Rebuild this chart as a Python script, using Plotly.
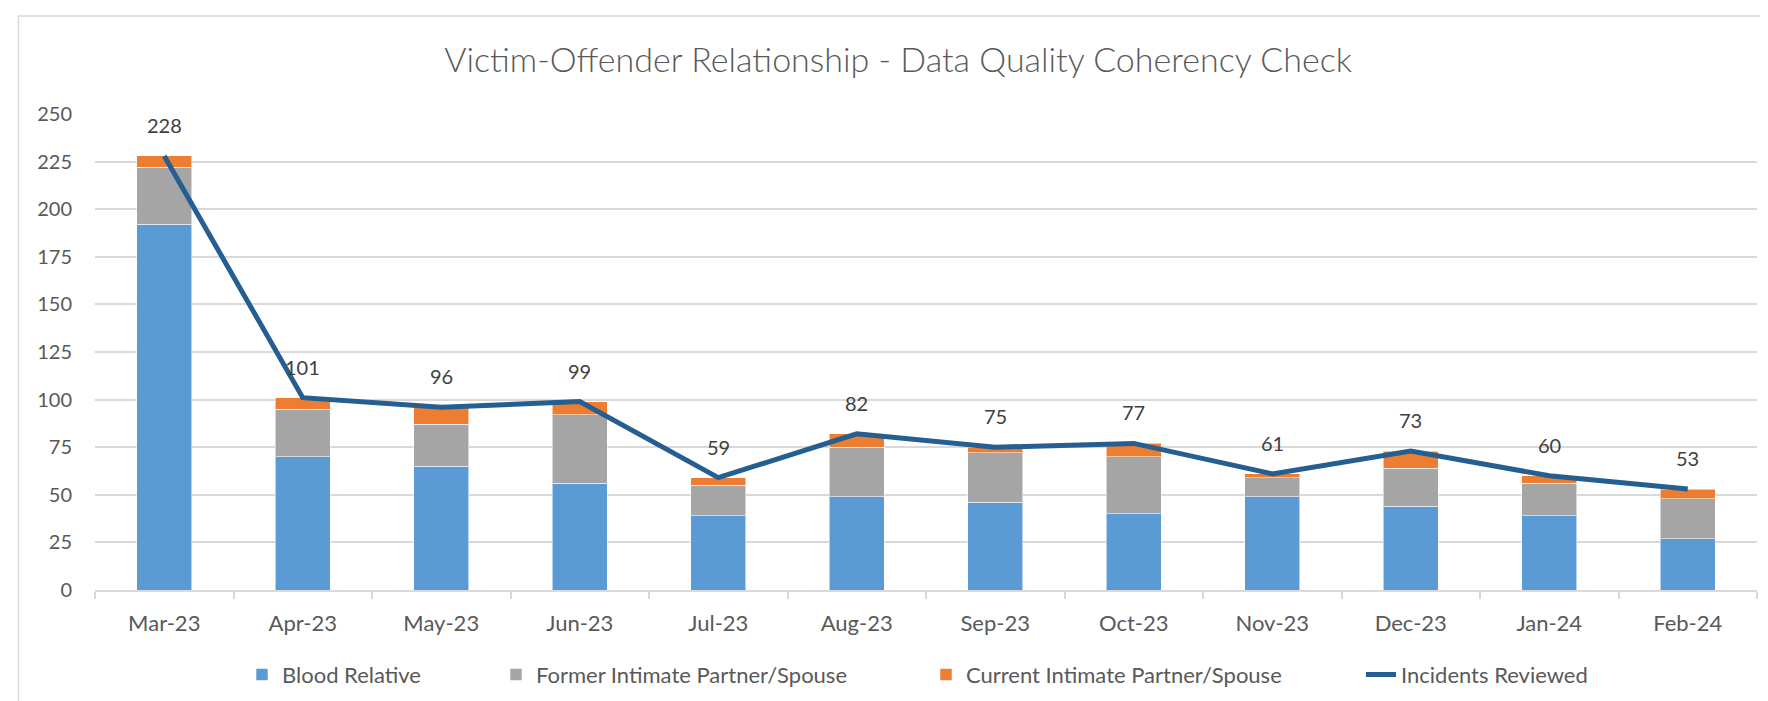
import plotly.graph_objects as go

months = ["Mar-23", "Apr-23", "May-23", "Jun-23", "Jul-23", "Aug-23",
          "Sep-23", "Oct-23", "Nov-23", "Dec-23", "Jan-24", "Feb-24"]
blood_relative = [192, 70, 65, 56, 39, 49, 46, 40, 49, 44, 39, 27]
former_partner = [30, 25, 22, 36, 16, 26, 26, 30, 10, 20, 17, 21]
current_partner = [6, 6, 9, 7, 4, 7, 3, 7, 2, 9, 4, 5]
incidents_reviewed = [228, 101, 96, 99, 59, 82, 75, 77, 61, 73, 60, 53]

FONT = "Lato, 'Open Sans', sans-serif"
GRID = "#D9D9D9"
TXT = "#595959"

PL, PR, PT, PB = 87, 1749, 106, 582  # plot area in pixels
PW, PH = PR - PL, PB - PT

fig = go.Figure()
seg_line = dict(color="rgba(255,255,255,0.55)", width=1)
fig.add_bar(x=months, y=blood_relative, name="Blood Relative",
            marker=dict(color="#5B9BD5", line=seg_line), legend="legend")
fig.add_bar(x=months, y=former_partner, name="Former Intimate Partner/Spouse",
            marker=dict(color="#A5A5A5", line=seg_line), legend="legend2")
fig.add_bar(x=months, y=current_partner, name="Current Intimate Partner/Spouse",
            marker=dict(color="#ED7D31", line=seg_line), legend="legend3")
fig.add_scatter(x=months, y=incidents_reviewed, mode="lines", name="Incidents Reviewed",
                line=dict(color="#255E91", width=5), legend="legend4")

annotations = [
    dict(x=m, y=v, text=str(v), showarrow=False, yshift=31, xref="x", yref="y",
         font=dict(family=FONT, size=20, color="#404040"))
    for m, v in zip(months, incidents_reviewed)
]

def leg(px):
    return dict(x=(px - PL) / PW, y=-0.178, xref="paper", yref="paper",
                xanchor="left", yanchor="middle",
                orientation="h", bgcolor="rgba(0,0,0,0)",
                font=dict(family=FONT, size=22, color=TXT))

fig.update_layout(
    width=1768, height=701, autosize=False,
    margin=dict(l=PL, r=1768 - PR, t=PT, b=701 - PB),
    paper_bgcolor="white", plot_bgcolor="white",
    barmode="stack", bargap=0.603,
    showlegend=True,
    font=dict(family=FONT, size=20, color=TXT),
    title=dict(text="Victim-Offender Relationship - Data Quality Coherency Check",
               x=890 / 1768, xref="container", xanchor="center",
               y=1 - 52 / 701, yref="container", yanchor="middle",
               font=dict(family=FONT, size=34, color=TXT, weight=300)),
    xaxis=dict(showline=True, linecolor=GRID, linewidth=1.5, showgrid=False,
               ticks="outside", tickson="boundaries", ticklen=7, tickcolor=GRID, tickwidth=1.5,
               ticklabelstandoff=13, tickfont=dict(family=FONT, size=22, color=TXT)),
    yaxis=dict(range=[0, 250], dtick=25, showgrid=True, gridcolor=GRID, gridwidth=1.5,
               zeroline=False, showline=False, ticks="", ticklabelstandoff=22,
               tickfont=dict(family=FONT, size=20, color=TXT)),
    annotations=annotations,
    legend=leg(234),
    legend2=leg(488),
    legend3=leg(918),
    legend4=leg(1353),
    shapes=[dict(type="rect", xref="paper", yref="paper",
                 x0=(10.5 - PL) / PW, x1=(1790 - PL) / PW,
                 y0=(PB - 720) / PH, y1=(PB - 8) / PH,
                 line=dict(color=GRID, width=1.5), fillcolor="rgba(0,0,0,0)", layer="below")],
)

fig.write_html("out.html")
